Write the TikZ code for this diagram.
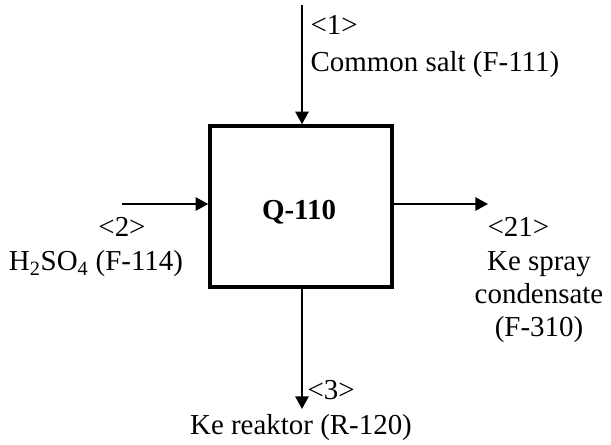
\documentclass[tikz,border=0pt]{standalone}
\usepackage{fontspec}
\setmainfont{Liberation Serif}
\usetikzlibrary{positioning,arrows.meta}

\begin{document}
\begin{tikzpicture}[
    x=0.75pt, y=-0.75pt,
    font=\fontsize{21.7}{24.75}\selectfont,
    >={Triangle[length=9.5pt, width=10pt]},
    line/.style={->, line width=1.4pt},
    unit/.style={
        draw, line width=2.6pt,
        minimum width=136.5pt,
        minimum height=120.75pt
    },
    tag/.style={inner sep=1pt},
    lbl/.style={inner sep=1pt, align=center}
]
\useasboundingbox (0,0) rectangle (611,444);

% Unit
\node[unit] (q110) at (301,206.5) {};
\node[font=\fontsize{21.7}{24.75}\selectfont\bfseries] (qname) at (299,212) {Q-110};

% Stream ends
\coordinate (in1)  at (302,5);
\coordinate (in2)  at (122,204);
\coordinate (out21) at (488,204);
\coordinate (out3) at (302,409);

% Streams
\draw[line] (in1) -- (in1 |- q110.north);
\draw[line] (in2) -- (in2 -| q110.west);
\draw[line] (out21 -| q110.east) -- (out21);
\draw[line] (out3 |- q110.south) -- (out3);

% Labels
\node[tag, anchor=west] (s1) at (309,25) {<1>};
\node[tag, anchor=west] (s1name) at (309,65) {Common salt (F-111)};
\node[tag] (s2) at (122,227) {<2>};
\node[tag] (s2name) at (96,264) {H\textsubscript{2}SO\textsubscript{4} (F-114)};
\node[tag, anchor=west] (s21) at (486,227) {<21>};
\node[lbl] (s21name) at (539,297) {Ke spray\\condensate\\(F-310)};
\node[tag, anchor=west] (s3) at (306,390) {<3>};
\node[tag] (s3name) at (301,428) {Ke reaktor (R-120)};

\end{tikzpicture}
\end{document}
